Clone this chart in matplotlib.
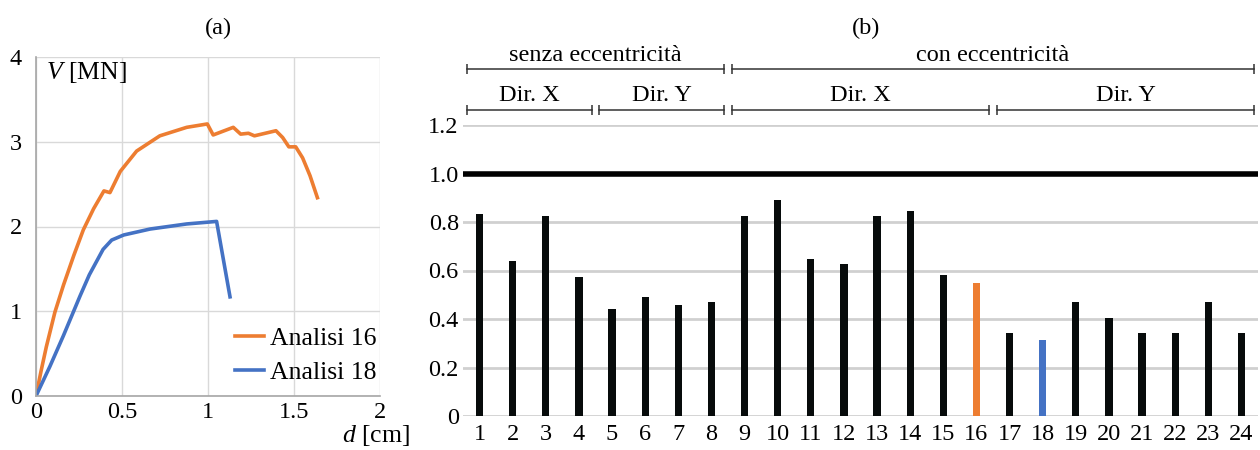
import matplotlib
matplotlib.use("Agg")
import matplotlib.pyplot as plt
import numpy as np

plt.rcParams['font.family'] = ['Liberation Serif', 'DejaVu Serif']
plt.rcParams['mathtext.fontset'] = 'custom'
plt.rcParams['mathtext.it'] = 'Liberation Serif:italic'
plt.rcParams['mathtext.rm'] = 'Liberation Serif'

# ---- (a) pushover curves ----
d16 = [0, 0.03, 0.06, 0.11, 0.16, 0.22, 0.275, 0.335, 0.395, 0.43, 0.49, 0.585,
       0.72, 0.876, 0.996, 1.03, 1.147, 1.19, 1.235, 1.27, 1.395, 1.434, 1.47, 1.51,
       1.55, 1.593, 1.636]
v16 = [0, 0.30, 0.58, 0.99, 1.31, 1.66, 1.96, 2.21, 2.42, 2.40, 2.65, 2.89, 3.07,
       3.17, 3.21, 3.08, 3.17, 3.09, 3.10, 3.07, 3.13, 3.05, 2.94, 2.94, 2.81,
       2.60, 2.34]
d18 = [0, 0.081, 0.159, 0.256, 0.31, 0.39, 0.44, 0.51, 0.663, 0.876, 1.05, 1.128]
v18 = [0, 0.35, 0.71, 1.18, 1.43, 1.73, 1.84, 1.90, 1.97, 2.03, 2.06, 1.17]

# ---- (b) bar chart ----
cases = [str(i) for i in range(1, 25)]
ratios = [0.833, 0.639, 0.825, 0.574, 0.441, 0.491, 0.459, 0.469, 0.826, 0.891,
          0.647, 0.627, 0.825, 0.847, 0.580, 0.548, 0.341, 0.315, 0.471, 0.405,
          0.341, 0.341, 0.469, 0.341]
bar_colors = ['#070b0b'] * 24
bar_colors[15] = '#ED7D31'
bar_colors[17] = '#4472C4'
ytick_vals = [0, 0.2, 0.4, 0.6, 0.8, 1.0, 1.2]
ytick_labels = ['0', '0.2', '0.4', '0.6', '0.8', '1.0', '1.2']
# bracket groups: (label, first case index, last case index, level)
groups = [("senza eccentricità", 0, 7, 2), ("con eccentricità", 8, 23, 2),
          ("Dir. X", 0, 3, 1), ("Dir. Y", 4, 7, 1),
          ("Dir. X", 8, 15, 1), ("Dir. Y", 16, 23, 1)]

W, H = 1260, 450
fig = plt.figure(figsize=(W / 100, H / 100), dpi=100)

FS = 17.5
grid_c = '#d9d9d9'

# Left axes
axa = fig.add_axes([36 / W, 1 - 396 / H, 344 / W, 339 / H])
axa.plot(d16, v16, color='#ED7D31', lw=2.6, label='Analisi 16')
axa.plot(d18, v18, color='#4472C4', lw=2.6, label='Analisi 18')
axa.set_xlim(0, 2)
axa.set_ylim(0, 4)
axa.set_xticks([0, 0.5, 1, 1.5, 2])
axa.set_xticklabels(['0', '0.5', '1', '1.5', '2'])
axa.set_yticks([0, 1, 2, 3, 4])
axa.grid(True, color=grid_c, lw=1)
axa.set_axisbelow(True)
for s in ['top', 'right']:
    axa.spines[s].set_visible(False)
for s in ['left', 'bottom']:
    axa.spines[s].set_color('#a6a6a6')
    axa.spines[s].set_linewidth(1.2)
axa.tick_params(length=0, labelsize=FS, pad=4)
axa.tick_params(axis='y', pad=10)
axa.text(0.03, 0.955, r'$\mathit{V}$ [MN]', transform=axa.transAxes, fontsize=18.5,
         ha='left', va='center')
leg = axa.legend(loc='lower right', bbox_to_anchor=(0.99, 0.035), frameon=False,
                 fontsize=18.5, handlelength=1.1, handletextpad=0.25, labelspacing=0.45,
                 borderpad=0, borderaxespad=0)
fig.text(342 / W, 1 - 436 / H, r'$\mathit{d}$ [cm]', fontsize=18.5, ha='left', va='center')
fig.text(218 / W, 1 - 28 / H, '(a)', fontsize=FS, ha='center', va='center')

# Right axes
axb = fig.add_axes([463 / W, 1 - 416 / H, 795 / W, 291 / H])
x = np.arange(len(cases))
axb.bar(x, ratios, width=0.22, color=bar_colors, zorder=3)
axb.axhline(1.0, color='black', lw=4, zorder=4)
axb.set_xlim(-0.5, len(cases) - 0.5)
axb.set_ylim(0, 1.2)
axb.set_yticks(ytick_vals)
axb.set_yticklabels(ytick_labels)
axb.set_xticks(x)
axb.set_xticklabels(cases)
axb.grid(True, axis='y', color='#d0d0d0', lw=2, zorder=0)
for s in ['top', 'right', 'left', 'bottom']:
    axb.spines[s].set_visible(False)
axb.tick_params(length=0, labelsize=FS, pad=6)
axb.tick_params(axis='y', pad=3)
fig.text(866 / W, 1 - 28 / H, '(b)', fontsize=FS, ha='center', va='center')

gap = 0.12
ylev = {2: 1.431, 1: 1.262}
ytxt = {2: 1.485, 1: 1.32}
for lab, i0, i1, lev in groups:
    x0 = i0 - 0.5 + gap
    x1 = i1 + 0.5 - gap
    y = ylev[lev]
    axb.plot([x0, x1], [y, y], color='#333333', lw=1.1, marker='|', markersize=7,
             markeredgewidth=1.1, clip_on=False)
    axb.text((x0 + x1) / 2, ytxt[lev], lab, fontsize=FS, ha='center', va='center')

fig.savefig('out.png', dpi=100)
